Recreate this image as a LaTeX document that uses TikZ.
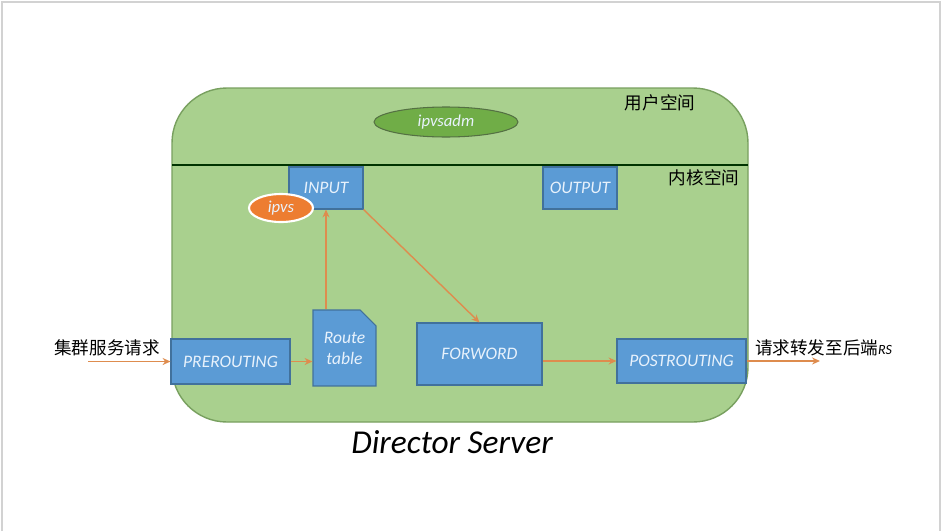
\documentclass[tikz,border=0pt]{standalone}
\usepackage{fontspec}
\setmainfont{Carlito}
\newfontfamily\cjk{Noto Sans CJK SC}
\usetikzlibrary{arrows.meta, positioning, shapes.geometric, shapes.misc}
\definecolor{spacegreen}{RGB}{169,208,142}
\definecolor{spaceedge}{RGB}{120,160,95}
\definecolor{admgreen}{RGB}{112,173,71}
\definecolor{hookblue}{RGB}{91,155,213}
\definecolor{hookedge}{RGB}{65,113,156}
\definecolor{ipvsorange}{RGB}{237,125,49}
\definecolor{floworange}{RGB}{222,140,78}
\definecolor{hooktext}{RGB}{232,242,252}

\begin{document}
\begin{tikzpicture}[x=0.02cm, y=-0.02cm,
  hook/.style={draw=hookedge, fill=hookblue, text=hooktext, line width=0.6pt,
    font=\itshape\fontsize{10}{12}\selectfont, inner sep=0pt, align=center},
  flow/.style={draw=floworange, line width=0.8pt, -{Stealth[length=4.5pt, width=4pt]}},
  zone/.style={font=\cjk\fontsize{10}{12}\selectfont}]
  \useasboundingbox (0,0) rectangle (943,531);
  % page frame
  \draw[gray!35, line width=1pt] (2,531) -- (2,2) -- (940,2) -- (940,531);
  % Director Server box
  \draw[draw=spaceedge, fill=spacegreen, line width=0.8pt, rounded corners=1.1cm] (172,88) rectangle (748,422);
  \draw[black!80!green, line width=1.1pt] (172,165) -- (748,165);
  \node[zone] (user) at (660,103) {用户空间};
  \node[zone] (kernel) at (704,178) {内核空间};
  \node[font=\itshape\fontsize{19}{22}\selectfont] (server) at (452,442) {Director Server};
  % user space tool
  \node[ellipse, draw=spaceedge!70!black, fill=admgreen, text=hooktext, line width=0.6pt,
    minimum width=2.88cm, minimum height=0.6cm, inner sep=0pt,
    font=\itshape\fontsize{9.5}{11}\selectfont] (ipvsadm) at (446,122) {ipvsadm};
  % hooks
  \node[hook, minimum width=1.48cm, minimum height=0.84cm] (input) at (326,188) {INPUT};
  \node[hook, minimum width=1.48cm, minimum height=0.84cm] (output) at (580,188) {OUTPUT};
  \node[hook, minimum width=2.38cm, minimum height=0.9cm] (prerouting) at (230.5,361.5) {PREROUTING};
  \node[hook, chamfered rectangle, chamfered rectangle corners=north east,
    chamfered rectangle sep=4.5pt, minimum width=1.26cm, minimum height=1.52cm] (route) at (344.5,348) {Route\\table};
  \node[hook, minimum width=2.5cm, minimum height=1.24cm] (forword) at (479.5,354) {FORWORD};
  \node[hook, minimum width=2.58cm, minimum height=0.88cm] (postrouting) at (681.5,361) {POSTROUTING};
  \node[ellipse, draw=white, fill=ipvsorange, text=hooktext, line width=1.2pt,
    minimum width=1.28cm, minimum height=0.56cm, inner sep=0pt,
    font=\itshape\fontsize{9.5}{11}\selectfont] (ipvs) at (281,208) {ipvs};
  % outside labels
  \node[zone] (request) at (107,348) {集群服务请求};
  \node[zone, anchor=west] (forward) at (749,348) {请求转发至后端{\rmfamily\itshape\fontsize{8}{10}\selectfont RS}};
  \coordinate (in) at (88,361.5);
  \coordinate (out) at (820,361);
  % packet flow
  \draw[flow] (in) -- (prerouting.west);
  \draw[flow] (prerouting.east) -- (prerouting.east -| route.west);
  \draw[flow] (input.south |- route.north) -- (input.south);
  \draw[flow] (input.south east) -- (forword.north);
  \draw[flow] (forword.east |- postrouting.west) -- (postrouting.west);
  \draw[flow] (postrouting.east) -- (out);
\end{tikzpicture}
\end{document}
